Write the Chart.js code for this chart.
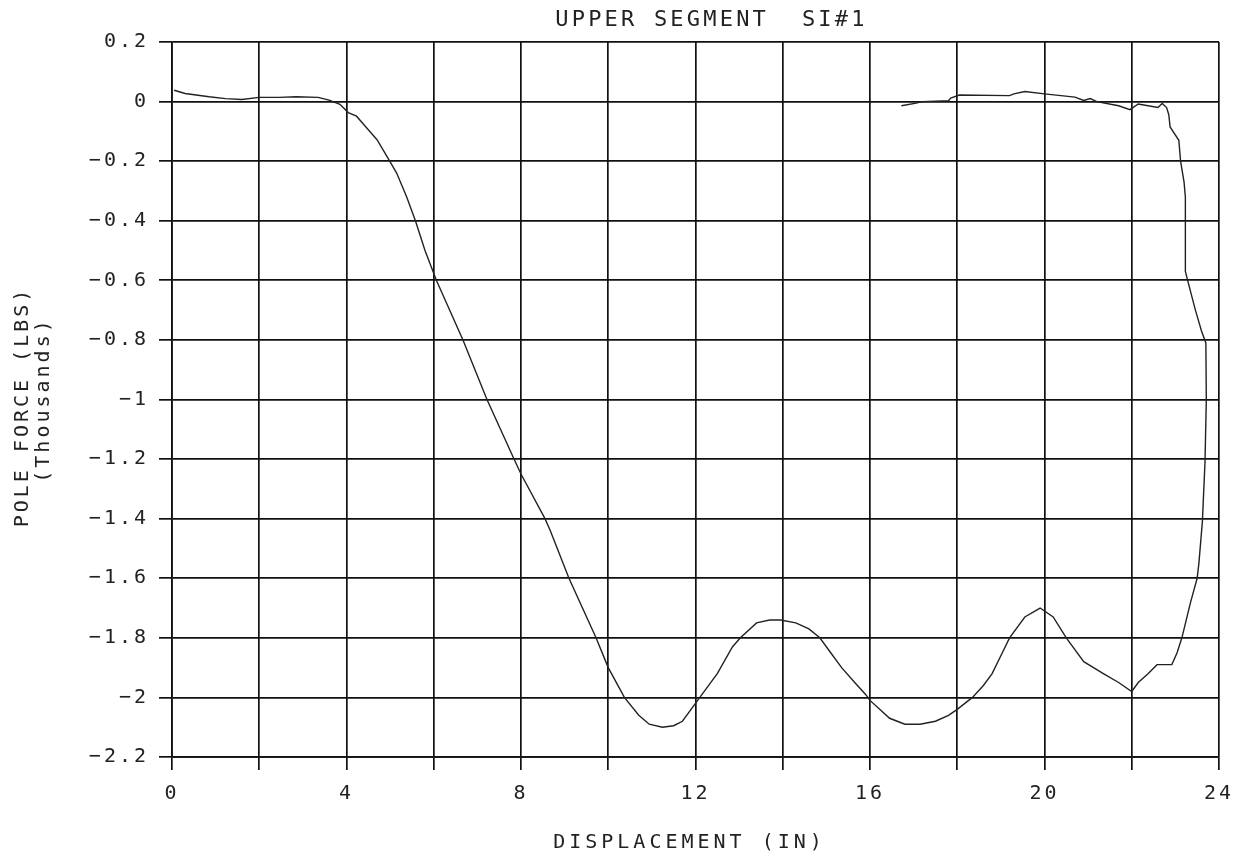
<!DOCTYPE html>
<html>
<head>
<meta charset="utf-8">
<script src="https://cdn.jsdelivr.net/npm/chart.js@4.4.1/dist/chart.umd.min.js"></script>
<style>
   html, body { margin: 0; padding: 0; background: #fff; }
   #canvas-1 { display: block; }
</style>
</head>
<body>
<canvas id="canvas-1" width="1243" height="862"></canvas>
<script>
// displacement (in) and pole force (thousands of lbs), in recorded order
const displacement = [
   0.05, 0.3, 0.85, 1.23, 1.6, 2.0, 2.46, 2.85, 3.35, 3.6, 3.85, 4.04, 4.23, 4.46, 4.7,
   4.95, 5.15, 5.38, 5.58, 5.8, 6.06, 6.67, 7.22, 7.84, 8.0, 8.55, 8.67, 9.1, 9.72, 10.0,
   10.37, 10.7, 10.94, 11.24, 11.5, 11.7, 12.0, 12.1, 12.5, 12.85, 13.03, 13.4, 13.7, 13.95,
   14.3, 14.6, 14.85, 15.1, 15.35, 15.65, 15.9, 16.0, 16.45, 16.8, 17.15, 17.5, 17.8, 18.0,
   18.35, 18.6, 18.8, 19.0, 19.2, 19.55, 19.9, 20.2, 20.5, 20.9, 21.35, 21.7, 22.0, 22.15,
   22.38, 22.58, 22.92, 23.04, 23.15, 23.35, 23.5, 23.54, 23.62, 23.68, 23.71, 23.7, 23.6,
   23.46, 23.3, 23.23, 23.23, 23.2, 23.12, 23.08, 22.88, 22.85, 22.8, 22.7, 22.6, 22.15,
   21.96, 21.7, 21.2, 21.05, 20.9, 20.7, 20.0, 19.55, 19.3, 19.2, 18.05, 17.85, 17.8, 17.2,
   17.06, 16.72,
];
const poleForce = [
   0.038, 0.027, 0.016, 0.01, 0.007, 0.014, 0.014, 0.016, 0.014, 0.005, -0.009, -0.037, -0.049, -0.088, -0.128,
   -0.19, -0.24, -0.32, -0.4, -0.5, -0.6, -0.8, -1.0, -1.2, -1.25, -1.4, -1.44, -1.6, -1.8, -1.9,
   -2.0, -2.06, -2.09, -2.1, -2.095, -2.08, -2.02, -2.0, -1.92, -1.83, -1.8, -1.75, -1.74, -1.74,
   -1.75, -1.77, -1.8, -1.85, -1.9, -1.95, -1.99, -2.01, -2.07, -2.09, -2.09, -2.08, -2.06, -2.04,
   -2.0, -1.96, -1.92, -1.86, -1.8, -1.73, -1.7, -1.73, -1.8, -1.88, -1.92, -1.95, -1.98, -1.95,
   -1.92, -1.89, -1.89, -1.85, -1.8, -1.68, -1.6, -1.55, -1.41, -1.21, -1.0, -0.81, -0.77,
   -0.7, -0.61, -0.57, -0.32, -0.27, -0.2, -0.13, -0.085, -0.044, -0.02, -0.006, -0.02, -0.008,
   -0.027, -0.014, 0.0, 0.01, 0.004, 0.015, 0.026, 0.034, 0.026, 0.02, 0.022, 0.012, 0.003, 0.0,
   -0.005, -0.014,
];

const xTickValues = [0, 2, 4, 6, 8, 10, 12, 14, 16, 18, 20, 22, 24];
const xTickLabels = ["0", "", "4", "", "8", "", "12", "", "16", "", "20", "", "24"];
const yTickValues = [0.2, 0, -0.2, -0.4, -0.6, -0.8, -1, -1.2, -1.4, -1.6, -1.8, -2, -2.2];
const yTickLabels = ["0.2", "0", "\u22120.2", "\u22120.4", "\u22120.6", "\u22120.8", "\u22121",
   "\u22121.2", "\u22121.4", "\u22121.6", "\u22121.8", "\u22122", "\u22122.2"];

const TITLE = "UPPER SEGMENT  SI#1";
const X_TITLE = "DISPLACEMENT (IN)";
const Y_TITLE = "POLE FORCE (LBS)";
const Y_SUBTITLE = "(Thousands)";

// fixed pitch lettering, like a pen plotter
const FONT = "'DejaVu Sans Mono', 'Liberation Mono', monospace";
const INK = "#111";

const plotterText = {
   id: "plotterText",
   beforeDraw(chart) {
      chart.ctx.letterSpacing = "3px";
   },
   afterDraw(chart) {
      const { ctx, chartArea } = chart;
      const midX = (chartArea.left + chartArea.right) / 2;
      ctx.save();
      ctx.fillStyle = "#222";
      ctx.textAlign = "center";
      ctx.textBaseline = "middle";

      ctx.letterSpacing = "3.2px";
      ctx.font = `22px ${FONT}`;
      ctx.fillText(TITLE, midX + 16, 20);

      ctx.letterSpacing = "4px";
      ctx.font = `20px ${FONT}`;
      ctx.fillText(X_TITLE, midX - 6, 843);

      ctx.letterSpacing = "3px";
      ctx.translate(23, 407);
      ctx.rotate(-Math.PI / 2);
      ctx.font = `20px ${FONT}`;
      ctx.fillText(Y_TITLE, 0, 0);
      ctx.fillText(Y_SUBTITLE, 7, 21);
      ctx.restore();
      ctx.letterSpacing = "0px";
   },
};

const drawChart = () => {
   const canvas = document.getElementById("canvas-1");
   const ctx = canvas.getContext("2d");

   const points = displacement.map((x, i) => ({ x: x, y: poleForce[i] }));

   new Chart(ctx, {
      type: "scatter",
      data: {
         datasets: [
            {
               label: TITLE,
               data: points,
               showLine: true,
               borderColor: "#222",
               borderWidth: 1.4,
               pointRadius: 0,
               tension: 0,
               fill: false,
            },
         ],
      },
      options: {
         responsive: false,
         animation: false,
         layout: {
            padding: { top: 42, right: 23, left: 0, bottom: 0 },
         },
         plugins: {
            legend: { display: false },
            title: { display: false },
            tooltip: { enabled: false },
         },
         scales: {
            x: {
               type: "linear",
               min: 0,
               max: 24,
               afterBuildTicks: (scale) => {
                  scale.ticks = xTickValues.map((v) => ({ value: v }));
               },
               afterFit: (scale) => {
                  scale.height = 105;
               },
               ticks: {
                  autoSkip: false,
                  maxRotation: 0,
                  padding: 12,
                  color: "#222",
                  font: { family: FONT, size: 20 },
                  callback: (value) => xTickLabels[xTickValues.indexOf(value)],
               },
               grid: {
                  color: INK,
                  lineWidth: 1.7,
                  drawTicks: true,
                  tickLength: 13,
                  tickColor: INK,
               },
               border: { color: INK, width: 1.7 },
            },
            y: {
               type: "linear",
               min: -2.2,
               max: 0.2,
               afterBuildTicks: (scale) => {
                  scale.ticks = yTickValues.map((v) => ({ value: v }));
               },
               afterFit: (scale) => {
                  scale.width = 172;
               },
               ticks: {
                  autoSkip: false,
                  padding: 10,
                  color: "#222",
                  font: { family: FONT, size: 20 },
                  callback: (value) => yTickLabels[yTickValues.indexOf(value)],
               },
               grid: {
                  color: INK,
                  lineWidth: 1.7,
                  drawTicks: true,
                  tickLength: 13,
                  tickColor: INK,
               },
               border: { color: INK, width: 1.7 },
            },
         },
      },
      plugins: [plotterText],
   });
};

drawChart();
</script>
</body>
</html>
